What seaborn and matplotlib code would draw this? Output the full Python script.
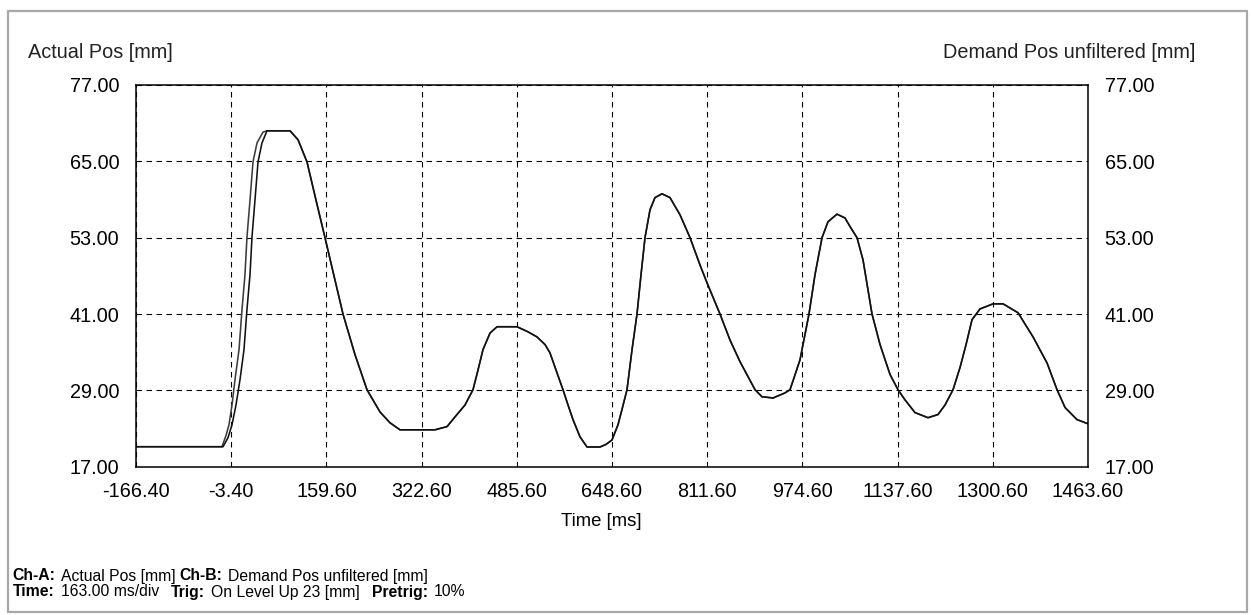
import matplotlib
matplotlib.use("Agg")
import matplotlib.pyplot as plt
import seaborn as sns
import pandas as pd
from matplotlib.patches import Rectangle

# ---------------- data ----------------
actual_time = [-166.4, -17.4, -8.9, -2.0, 4.8, 11.7, 18.5, 23.6, 28.8, 32.2, 37.3, 42.5, 49.3,
               57.9, 97.3, 111.0, 126.4, 141.8, 157.2, 172.6, 188.0, 208.6, 229.1, 251.4, 268.5,
               285.6, 345.5, 366.1, 383.2, 396.9, 410.6, 419.2, 427.7, 439.7, 451.7, 485.9, 504.8,
               520.2, 533.9, 542.4, 552.7, 564.7, 573.3, 581.8, 593.8, 605.8, 628.1, 638.3, 648.6,
               658.9, 665.7, 674.3, 682.9, 691.4, 698.3, 705.1, 713.7, 722.2, 734.2, 747.9, 765.0,
               782.2, 799.3, 811.3, 833.5, 850.7, 867.8, 893.5, 905.4, 924.3, 944.8, 953.4, 970.5,
               985.9, 996.2, 1008.2, 1018.4, 1033.8, 1047.5, 1057.8, 1068.1, 1078.4, 1086.9, 1093.8,
               1107.5, 1124.6, 1138.3, 1150.3, 1167.4, 1189.7, 1206.8, 1218.8, 1232.5, 1244.5,
               1254.8, 1265.0, 1278.7, 1301.0, 1318.1, 1343.8, 1369.5, 1393.5, 1410.6, 1424.3,
               1444.8, 1463.6]
actual_pos = [20.14, 20.14, 21.55, 23.6, 26.7, 30.7, 35.4, 41.7, 47.2, 53.1, 58.9, 64.9, 67.9,
              69.8, 69.8, 68.4, 64.9, 58.9, 53.0, 47.0, 41.0, 34.6, 29.1, 25.6, 23.9,
              22.8, 22.8, 23.3, 25.2, 26.7, 29.1, 32.2, 35.4, 38.0, 39.0, 39.0, 38.2,
              37.4, 36.2, 34.9, 32.2, 29.1, 26.7, 24.4, 21.7, 20.1, 20.1, 20.5, 21.2,
              23.6, 26.0, 29.1, 35.4, 41.0, 47.2, 53.0, 57.4, 59.3, 59.9, 59.3, 56.6,
              53.0, 48.7, 45.9, 41.0, 36.9, 33.5, 29.1, 28.0, 27.8, 28.6, 29.1, 33.8,
              41.0, 47.2, 53.0, 55.5, 56.7, 56.1, 54.5, 53.0, 49.5, 44.8, 41.0,
              36.2, 31.5, 29.1, 27.5, 25.5, 24.7, 25.2, 26.7, 29.1, 32.6,
              36.2, 40.1, 41.8, 42.6, 42.6, 41.2, 37.4, 33.3, 29.1, 26.3,
              24.4, 23.75]

demand_time = [-166.4, -19.2, -12.3, -7.2, -2.0, 3.1, 10.0, 15.1, 20.2, 23.6, 28.8, 33.9, 40.8,
               51.1, 57.9, 97.3, 111.0, 126.4, 141.8, 157.2, 172.6, 188.0, 208.6, 229.1, 251.4,
               268.5, 285.6, 345.5, 366.1, 383.2, 396.9, 410.6, 419.2, 427.7, 439.7, 451.7, 485.9,
               504.8, 520.2, 533.9, 542.4, 552.7, 564.7, 573.3, 581.8, 593.8, 605.8, 628.1, 638.3,
               648.6, 658.9, 665.7, 674.3, 682.9, 691.4, 698.3, 705.1, 713.7, 722.2, 734.2, 747.9,
               765.0, 782.2, 799.3, 811.3, 833.5, 850.7, 867.8, 893.5, 905.4, 924.3, 944.8, 953.4,
               970.5, 985.9, 996.2, 1008.2, 1018.4, 1033.8, 1047.5, 1057.8, 1068.1, 1078.4, 1086.9,
               1093.8, 1107.5, 1124.6, 1138.3, 1150.3, 1167.4, 1189.7, 1206.8, 1218.8, 1232.5,
               1244.5, 1254.8, 1265.0, 1278.7, 1301.0, 1318.1, 1343.8, 1369.5, 1393.5, 1410.6,
               1424.3, 1444.8, 1463.6]
demand_pos = [20.14, 20.14, 21.9, 23.6, 26.7, 30.7, 35.4, 41.7, 47.2, 53.1, 58.9, 64.9, 67.9,
              69.6, 69.8, 69.8, 68.4, 64.9, 58.9, 53.0, 47.0, 41.0, 34.6, 29.1, 25.6,
              23.9, 22.8, 22.8, 23.3, 25.2, 26.7, 29.1, 32.2, 35.4, 38.0, 39.0, 39.0,
              38.2, 37.4, 36.2, 34.9, 32.2, 29.1, 26.7, 24.4, 21.7, 20.1, 20.1, 20.5,
              21.2, 23.6, 26.0, 29.1, 35.4, 41.0, 47.2, 53.0, 57.4, 59.3, 59.9, 59.3,
              56.6, 53.0, 48.7, 45.9, 41.0, 36.9, 33.5, 29.1, 28.0, 27.8, 28.6, 29.1,
              33.8, 41.0, 47.2, 53.0, 55.5, 56.7, 56.1, 54.5, 53.0, 49.5, 44.8,
              41.0, 36.2, 31.5, 29.1, 27.5, 25.5, 24.7, 25.2, 26.7, 29.1,
              32.6, 36.2, 40.1, 41.8, 42.6, 42.6, 41.2, 37.4, 33.3, 29.1,
              26.3, 24.4, 23.75]

x_ticks = [-166.40, -3.40, 159.60, 322.60, 485.60, 648.60, 811.60, 974.60, 1137.60, 1300.60, 1463.60]
y_ticks = [17.00, 29.00, 41.00, 53.00, 65.00, 77.00]

status_line1 = [("Ch-A:", True), ("Actual Pos [mm]", False), ("Ch-B:", True),
                ("Demand Pos unfiltered [mm]", False)]
status_line2 = [("Time:", True), ("163.00 ms/div", False), ("Trig:", True),
                ("On Level Up 23 [mm]", False), ("Pretrig:", True), ("10%", False)]

# ---------------- style ----------------
sns.set_style("white")
plt.rcParams['font.family'] = ['Liberation Sans', 'DejaVu Sans']
TICK_FS = 14.3
LAB_FS = 14.3

W, H = 1251, 615
fig = plt.figure(figsize=(W / 100, H / 100), dpi=100)
fig.patch.set_facecolor('white')

# window border
fig.patches.append(Rectangle((8 / W, 1 - 612 / H), (1247 - 8) / W, (612 - 11) / H,
                             transform=fig.transFigure, fill=False,
                             edgecolor='#a8a8a8', linewidth=1.6))

L, R, T, B = 136, 1088, 85, 466.7
ax = fig.add_axes([L / W, 1 - B / H, (R - L) / W, (B - T) / H])
ax.set_facecolor('white')

df_d = pd.DataFrame({'t': demand_time, 'v': demand_pos})
df_a = pd.DataFrame({'t': actual_time, 'v': actual_pos})
sns.lineplot(data=df_d, x='t', y='v', ax=ax, color='#3c3c3c', linewidth=1.15,
             estimator=None, sort=False)
sns.lineplot(data=df_a, x='t', y='v', ax=ax, color='#111111', linewidth=1.15,
             estimator=None, sort=False)

ax.set_xlim(x_ticks[0], x_ticks[-1])
ax.set_ylim(y_ticks[0], y_ticks[-1])
ax.set_xticks(x_ticks)
ax.set_yticks(y_ticks)
ax.set_xticklabels([f"{v:.2f}" for v in x_ticks])
ax.set_yticklabels([f"{v:.2f}" for v in y_ticks])
ax.grid(True, color='black', linestyle=(0, (5, 4)), linewidth=0.8)
ax.tick_params(axis='both', length=0, labelsize=TICK_FS, colors='black')
ax.tick_params(axis='x', pad=11)
ax.tick_params(axis='y', pad=12, labelleft=True, labelright=True)
for s in ax.spines.values():
    s.set_color('black')
    s.set_linewidth(1.1)
ax.set_xlabel('')
ax.set_ylabel('')

def ftext(x, y, s, fs=LAB_FS, **kw):
    return fig.text(x / W, 1 - y / H, s, fontsize=fs, va='center', **kw)

ftext(28, 53, 'Actual Pos [mm]', ha='left', color='#222222')
ftext(1195, 53, 'Demand Pos unfiltered [mm]', ha='right', color='#222222')
ftext(601, 522, 'Time [ms]', fs=13.3, ha='center', color='black')

# status lines laid out one after another
renderer = fig.canvas.get_renderer()
SFS = 11.3

def layout(items, x0, y, gap_after_bold, gap_group):
    x = x0
    for s, bold in items:
        t = ftext(x, y, s, fs=SFS, ha='left', color='black',
                  fontweight='bold' if bold else 'normal')
        bb = t.get_window_extent(renderer=renderer)
        x += bb.width + (gap_after_bold if bold else gap_group)

layout(status_line1, 12, 576, 6, 4)
layout(status_line2, 13, 592, 6, 12)

fig.savefig('out.png', dpi=100, facecolor='white')
